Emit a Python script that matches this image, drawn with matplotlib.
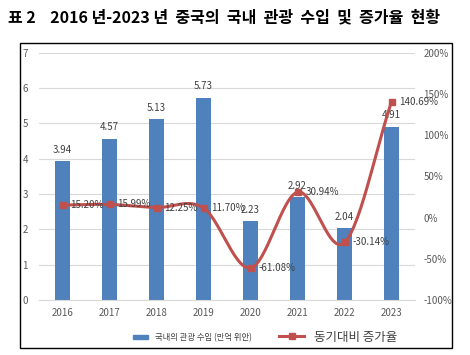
import numpy as np
import matplotlib.pyplot as plt
from matplotlib.patches import Rectangle
from matplotlib.lines import Line2D

plt.rcParams['font.family'] = ['Noto Sans CJK KR', 'DejaVu Sans']

years = ['2016', '2017', '2018', '2019', '2020', '2021', '2022', '2023']
revenue = [3.94, 4.57, 5.13, 5.73, 2.23, 2.92, 2.04, 4.91]
growth = [15.20, 15.99, 12.25, 11.70, -61.08, 30.94, -30.14, 140.69]

bar_color = '#4f81bd'
line_color = '#c0504d'
txt = '#595959'


def smooth(x, y, n=30):
    # Catmull-Rom style smoothing, like Excel's smoothed line
    x = np.asarray(x, float)
    y = np.asarray(y, float)
    px = np.concatenate([[2 * x[0] - x[1]], x, [2 * x[-1] - x[-2]]])
    py = np.concatenate([[2 * y[0] - y[1]], y, [2 * y[-1] - y[-2]]])
    xs, ys = [], []
    t = np.linspace(0, 1, n)
    for i in range(1, len(px) - 2):
        for arr, out in ((px, xs), (py, ys)):
            p0, p1, p2, p3 = arr[i - 1], arr[i], arr[i + 1], arr[i + 2]
            seg = 0.5 * ((2 * p1) + (-p0 + p2) * t + (2 * p0 - 5 * p1 + 4 * p2 - p3) * t ** 2
                         + (-p0 + 3 * p1 - 3 * p2 + p3) * t ** 3)
            out.extend(seg)
    return np.array(xs), np.array(ys)


fig = plt.figure(figsize=(4.7, 3.55), dpi=100)
fig.patches.append(Rectangle((0.0426, 0.02), 0.919, 0.859, transform=fig.transFigure,
                             fill=False, edgecolor='black', linewidth=1.0))
fig.text(0.017, 0.952, '표 2    2016 년-2023 년  중국의  국내  관광  수입  및  증가율  현황',
         fontsize=11.5, fontweight='bold', va='center', ha='left')

ax = fig.add_axes([0.083, 0.155, 0.8, 0.696])
x = np.arange(len(years))
ax.bar(x, revenue, width=0.32, color=bar_color, zorder=2)
for xi, v in zip(x, revenue):
    ax.text(xi, v + 0.18, f'{v:.2f}', ha='center', va='bottom', fontsize=7, color='#404040')

ax.set_xlim(-0.5, 7.5)
ax.set_ylim(0, 7)
ax.set_yticks(range(8))
ax.set_xticks(x)
ax.set_xticklabels(years)
ax.grid(axis='y', color='#d9d9d9', linewidth=0.8, zorder=0)
ax.tick_params(axis='both', length=0, labelsize=7, labelcolor=txt)
ax.tick_params(axis='y', pad=8)
ax.tick_params(axis='x', pad=6)
for s in ax.spines.values():
    s.set_visible(False)
ax.spines['bottom'].set_visible(True)
ax.spines['bottom'].set_color('#d9d9d9')

ax2 = ax.twinx()
ax2.set_ylim(-100, 200)
ax2.set_yticks(range(-100, 201, 50))
ax2.set_yticklabels([f'{v}%' for v in range(-100, 201, 50)])
ax2.tick_params(axis='y', length=0, labelsize=7, labelcolor=txt, pad=6)
for s in ax2.spines.values():
    s.set_visible(False)
sx, sy = smooth(x, growth)
ax2.plot(sx, sy, color=line_color, linewidth=2.2, zorder=3)
ax2.plot(x, growth, linestyle='none', marker='s', markersize=5, color=line_color, zorder=4)
for xi, g in zip(x, growth):
    ax2.text(xi + 0.17, g, f'{g:.2f}%', ha='left', va='center', fontsize=7, color='#404040', zorder=5)

handles = [Rectangle((0, 0), 1, 1, color=bar_color),
           Line2D([], [], color=line_color, linewidth=2.2, marker='s', markersize=5)]
leg1 = fig.legend([handles[0]], ['국내의 관광 수입 (만억 위안)'], loc='center',
                  bbox_to_anchor=(0.41, 0.05), frameon=False, fontsize=6,
                  handlelength=1.8, handleheight=0.4)
leg2 = fig.legend([handles[1]], ['동기대비 증가율'], loc='center',
                  bbox_to_anchor=(0.72, 0.05), frameon=False, fontsize=9,
                  handlelength=2.0)
for t in leg1.get_texts() + leg2.get_texts():
    t.set_color('#404040')

fig.savefig('out.png', dpi=100)
